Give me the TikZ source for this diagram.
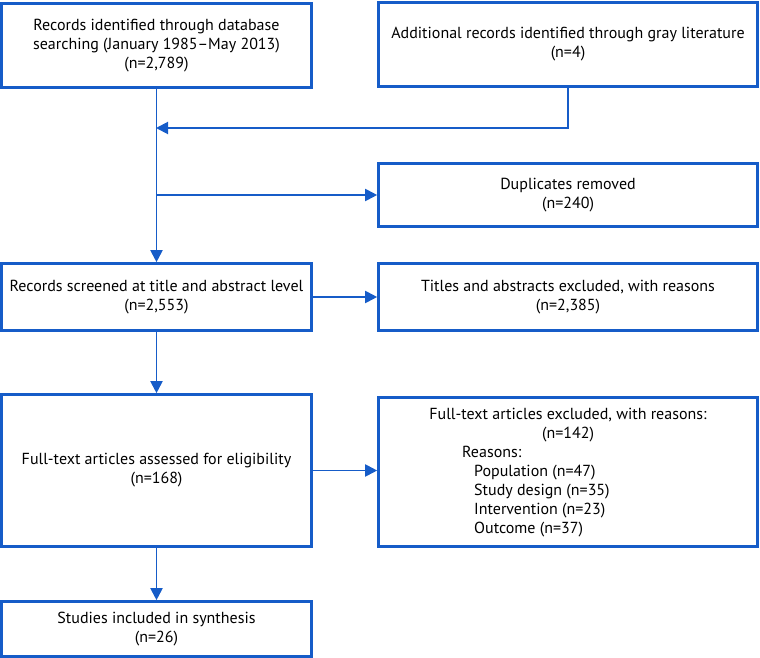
\documentclass[tikz,border=0pt]{standalone}
\usepackage{fontspec}
\setmainfont{PT Sans}
\usetikzlibrary{arrows.meta,calc}
\definecolor{flowblue}{RGB}{22,92,200}
\begin{document}
\begin{tikzpicture}[x=1pt,y=-1pt,
  box/.style={draw=flowblue,line width=2.6pt,inner sep=0pt,align=center,
    font=\fontsize{16}{19}\selectfont,text=black},
  txt/.style={font=\fontsize{16}{19}\selectfont,inner sep=0pt},
  conn/.style={draw=flowblue,line width=1.9pt},
  arr/.style={conn,-{Triangle[length=12pt,width=12pt]}}]
\useasboundingbox (0,0) rectangle (760,658);
\node[box,minimum width=310pt,minimum height=84pt] (A) at (156.5,45.5)
  {Records identified through database\\searching (January 1985–May 2013)\\(n=2,789)};
\node[box,minimum width=379pt,minimum height=84pt] (B) at (568,44.5)
  {Additional records identified through gray literature\\(n=4)};
\node[box,minimum width=379pt,minimum height=63pt] (D) at (568,195)
  {Duplicates removed\\(n=240)};
\node[box,minimum width=310pt,minimum height=67pt] (S) at (156.5,297)
  {Records screened at title and abstract level\\(n=2,553)};
\node[box,minimum width=379pt,minimum height=67pt] (T) at (568,297)
  {Titles and abstracts excluded, with reasons\\(n=2,385)};
\node[box,minimum width=310pt,minimum height=152pt] (F) at (156.5,470.5)
  {Full-text articles assessed for eligibility\\(n=168)};
\node[box,minimum width=379pt,minimum height=149pt] (E) at (568,472) {};
\node[txt,align=center,anchor=north] (E1) at (568,408)
  {Full-text articles excluded, with reasons:\\(n=142)};
\node[txt,align=left,anchor=north west] (E2) at (462,446)
  {Reasons:\\\hspace*{12pt}Population (n=47)\\\hspace*{12pt}Study design (n=35)\\\hspace*{12pt}Intervention (n=23)\\\hspace*{12pt}Outcome (n=37)};
\node[box,minimum width=310pt,minimum height=55pt] (St) at (156.5,629)
  {Studies included in synthesis\\(n=26)};
\coordinate (J1) at (A.south |- 0,128);
\coordinate (J2) at (A.south |- D.west);
\draw[arr] (A.south) -- (S.north);
\draw[arr,shorten >=-0.5pt] (B.south) |- (J1);
\draw[arr] (J2) -- (D.west);
\draw[arr] (S.east) -- (T.west);
\draw[arr] (S.south) -- (F.north);
\draw[arr] (F.east) -- (E.west |- F.east);
\draw[arr] (F.south) -- (St.north);
\end{tikzpicture}
\end{document}
